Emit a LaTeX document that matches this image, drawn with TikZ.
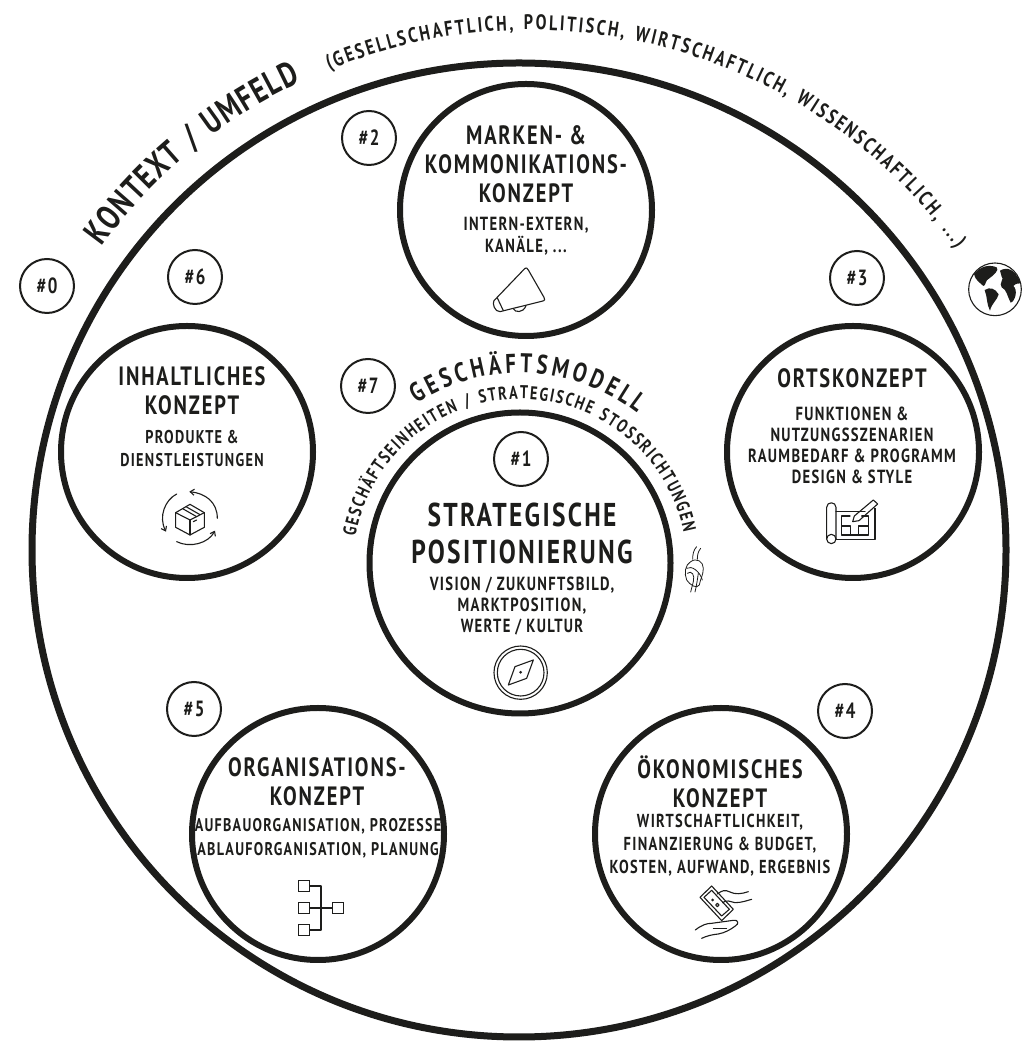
\documentclass[tikz,border=0pt]{standalone}
\usepackage{fontspec}
\usetikzlibrary{decorations.text,arrows.meta}
\newfontfamily\din{PT Sans}[FakeStretch=0.77,LetterSpace=7]
\definecolor{ink}{HTML}{1D1D1B}
\newcommand{\fs}[2]{\din\bfseries\fontsize{#1}{#2}\selectfont}
\tikzset{
 bigc/.style={circle,draw=ink,line width=6pt,minimum size=252pt,inner sep=0pt},
 midc/.style={circle,draw=ink,line width=6pt,minimum size=301pt,inner sep=0pt},
 nr/.style={circle,draw=ink,line width=2pt,minimum size=54pt,inner sep=0pt,text=ink,font=\fs{22}{22}},
 title/.style={inner sep=0pt,align=center,text=ink,font=\fs{26.5}{29}},
 sub/.style={inner sep=0pt,align=center,text=ink,font=\fs{19}{22}},
 icon/.style={draw=ink,line width=1.1pt,line cap=round,line join=round},
 iconthin/.style={draw=ink,line width=.8pt,line cap=round,line join=round},
 orgbox/.style={draw=ink,line width=1.1pt,minimum size=11pt,inner sep=0pt},
 curved/.style={postaction={decorate},decoration={text along path,text align={fit to path},text={#1}}}
}
\begin{document}
\begin{tikzpicture}[x=1pt,y=1pt]
\useasboundingbox (0,0) rectangle (1032,1050);
\fill[white] (0,0) rectangle (1032,1050);
% outer circle
\node[circle,draw=ink,line width=7pt,minimum size=974pt,inner sep=0pt] (outer) at (519,1050-550) {};
% concept circles
\node[midc] (c1) at (520,1050-563) {};
\node[bigc] (c2) at (526,1050-210) {};
\node[bigc] (c3) at (853,1050-452) {};
\node[bigc] (c4) at (721,1050-834) {};
\node[bigc] (c5) at (318,1050-834) {};
\node[bigc] (c6) at (187,1050-452) {};
% number circles
\node[nr] (n0) at (47,1050-286) {\#0};
\node[nr] (n1) at (521,1050-459) {\#1};
\node[nr] (n2) at (369,1050-138) {\#2};
\node[nr] (n3) at (857,1050-278) {\#3};
\node[nr] (n4) at (845,1050-711) {\#4};
\node[nr] (n5) at (194,1050-709) {\#5};
\node[nr] (n6) at (195,1050-277) {\#6};
\node[nr] (n7) at (368,1050-386) {\#7};
% texts
\node[title] (t2) at (526,1050-164) {MARKEN- \&\\KOMMONIKATIONS-\\KONZEPT};
\node[sub] (s2) at (526,1050-236) {INTERN-EXTERN,\\KANÄLE, ...};
\node[title] (t6) at (192,1050-391) {INHALTLICHES\\KONZEPT};
\node[sub,font=\fs{18.5}{23}] (s6) at (192,1050-449) {PRODUKTE \&\\DIENSTLEISTUNGEN};
\node[title] (t3) at (852,1050-378) {ORTSKONZEPT};
\node[sub,font=\fs{19}{21}] (s3) at (852,1050-445) {FUNKTIONEN \&\\NUTZUNGSSZENARIEN\\RAUMBEDARF \& PROGRAMM\\DESIGN \& STYLE};
\node[title,font=\fs{33}{37}] (t1) at (522,1050-533) {STRATEGISCHE\\POSITIONIERUNG};
\node[sub,font=\fs{19}{21}] (s1) at (522,1050-606) {VISION / ZUKUNFTSBILD,\\MARKTPOSITION,\\WERTE / KULTUR};
\node[title] (t5) at (317,1050-782) {ORGANISATIONS-\\KONZEPT};
\node[sub,font=\fs{18.3}{24}] (s5) at (318,1050-838) {AUFBAUORGANISATION, PROZESSE\\ABLAUFORGANISATION, PLANUNG};
\node[title] (t4) at (720,1050-782) {ÖKONOMISCHES\\KONZEPT};
\node[sub,font=\fs{18.8}{23}] (s4) at (720,1050-845) {WIRTSCHAFTLICHKEIT,\\FINANZIERUNG \& BUDGET,\\KOSTEN, AUFWAND, ERGEBNIS};
% curved texts
\coordinate (m) at (520,1050-563);
\coordinate (q) at (520,1050-566);
\coordinate (o) at (519,1050-550);
\coordinate (p) at (530,1050-555);
\path[curved={|\fs{18.5}{18}\color{ink}|GESCHÄFTSEINHEITEN / STRATEGISCHE STOSSRICHTUNGEN}] ([shift={(170:167)}]q) arc[start angle=170,end angle=11.5,radius=167];
\path[curved={|\fs{27}{27}\color{ink}|GESCHÄFTSMODELL}] ([shift={(123:190)}]m) arc[start angle=123,end angle=52,radius=190];
\path[curved={|\fs{35}{35}\color{ink}|KONTEXT / UMFELD}] ([shift={(144:516)}]o) arc[start angle=144,end angle=115,radius=516];
\path[curved={|\fs{21}{21}\color{ink}|(GESELLSCHAFTLICH, POLITISCH, WIRTSCHAFTLICH, WISSENSCHAFTLICH, ...)}] ([shift={(112.5:525)}]p) arc[start angle=112.5,end angle=35.8,radius=525];
% megaphone
\begin{scope}[shift={(470,1050-260)},x=.3333pt,y=-.3333pt]
\draw[icon] (165,25) -- (72,122) .. controls (66,130) and (74,156) .. (90,155) -- (215,124) .. controls (226,122) and (225,118) .. (222,112) -- (175,30) .. controls (172,24) and (168,22) .. (165,25) -- cycle;
\draw[icon] (82,114) -- (100,152);
\draw[icon] (130,146) .. controls (134,158) and (160,160) .. (168,137);
\end{scope}
% box
\begin{scope}[shift={(140,1050-500)},x=.3333pt,y=-.3333pt]
\draw[icon] (150,13) -- (193,38) -- (193,82) -- (150,105) -- (107,82) -- (107,38) -- cycle;
\draw[icon] (107,38) -- (150,60) -- (193,38);
\draw[icon] (150,60) -- (150,105);
\draw[icon] (128,26) -- (170,50);
\draw[icon] (138,20) -- (180,44);
\draw[icon] (160,65) -- (170,60);
\draw[icon,-{Straight Barb[length=4pt,width=6pt]}] (232,55) .. controls (232,5) and (195,-20) .. (148,-25);
\draw[icon,-{Straight Barb[length=4pt,width=6pt]}] (110,-18) .. controls (75,0) and (55,50) .. (78,95);
\draw[icon,-{Straight Barb[length=4pt,width=6pt]}] (110,125) .. controls (150,145) and (205,130) .. (225,92);
\end{scope}
% blueprint
\begin{scope}[shift={(810,1050-480)},x=.3333pt,y=-.3333pt]
\draw[icon] (50,177) -- (50,82) .. controls (50,64) and (78,64) .. (78,82) -- (78,177);
\draw[icon] (64,177) circle[radius=14];
\draw[icon] (78,95) -- (165,95);
\draw[icon] (195,85) -- (195,178) -- (78,178);
\draw[icon] (95,108) -- (120,108);
\draw[icon] (155,108) -- (175,108) -- (175,165) -- (95,165) -- (95,108);
\draw[icon] (95,138) -- (122,138) -- (122,165);
\draw[icon] (145,165) -- (145,138) -- (175,138);
\draw[icon] (128,125) -- (133,108) -- (190,60) -- (203,72) -- (147,122) -- cycle;
\end{scope}
% compass
\begin{scope}[shift={(480,1050-630)},x=.3333pt,y=-.3333pt]
\draw[icon] (122,128) circle[radius=80];
\draw[icon] (122,128) circle[radius=70];
\draw[icon] (160,90) -- (140,145) -- (85,165) -- (105,110) -- cycle;
\fill[ink] (122,127) circle[radius=4.5];
\end{scope}
% knot
\begin{scope}[shift={(670,1050-530)},x=.3333pt,y=-.3333pt]
\draw[iconthin] (80,50) .. controls (70,60) and (68,75) .. (68,88);
\draw[iconthin] (92,55) .. controls (84,65) and (82,75) .. (82,88);
\draw[iconthin] (62,95) .. controls (80,82) and (100,95) .. (100,115) .. controls (100,135) and (90,150) .. (88,165) .. controls (80,178) and (60,165) .. (50,150) .. controls (42,130) and (45,105) .. (62,95);
\draw[iconthin] (50,115) .. controls (65,105) and (90,125) .. (97,150);
\draw[iconthin] (52,130) .. controls (65,120) and (75,135) .. (70,155) -- (62,186);
\draw[iconthin] (85,130) .. controls (82,150) and (80,165) .. (75,186);
\end{scope}
% globe
\begin{scope}[shift={(950,1050-250)},x=.3333pt,y=-.3333pt]
\draw[icon,fill=white] (135,118) circle[radius=79];
\fill[ink] (72,72) .. controls (90,50) and (115,42) .. (140,52) .. controls (150,60) and (128,78) .. (118,85) .. controls (105,90) and (108,108) .. (100,108) .. controls (90,98) and (75,90) .. (72,72) -- cycle;
\fill[ink] (104,120) .. controls (120,110) and (135,115) .. (146,133) .. controls (142,150) and (125,160) .. (120,182) .. controls (110,165) and (112,140) .. (104,120) -- cycle;
\fill[ink] (150,62) .. controls (170,50) and (195,55) .. (212,100) .. controls (205,100) and (198,100) .. (190,108) .. controls (205,120) and (195,155) .. (182,158) .. controls (172,140) and (170,118) .. (155,112) .. controls (145,100) and (165,85) .. (155,80) -- cycle;
\end{scope}
% hands and money
\begin{scope}[shift={(670,1050-860)},x=.3333pt,y=-.3333pt]
\draw[icon] (90,112) -- (125,78) -- (190,148) -- (155,182) -- cycle;
\draw[icon] (102,112) -- (125,91) -- (178,148) -- (155,168) -- cycle;
\fill[ink] (128,120) circle[radius=4.5];
\draw[icon] (142,135) circle[radius=5];
\draw[icon] (142,102) .. controls (155,92) and (165,88) .. (180,96) .. controls (195,104) and (215,102) .. (235,95);
\draw[icon] (158,128) .. controls (170,118) and (180,125) .. (195,128) .. controls (215,128) and (230,122) .. (245,118);
\draw[icon] (76,210) .. controls (95,195) and (110,190) .. (125,190) -- (190,181) .. controls (205,178) and (208,192) .. (196,198) .. controls (180,210) and (165,218) .. (145,222) .. controls (125,224) and (110,228) .. (95,235);
\draw[icon] (130,205) -- (170,205);
\end{scope}
% org chart
\node[orgbox] (b1) at (304,1050-886) {};
\node[orgbox] (b2) at (304,1050-908) {};
\node[orgbox] (b3) at (304,1050-930) {};
\node[orgbox] (b4) at (338,1050-908) {};
\coordinate (j) at (321,1050-908);
\draw[icon] (b1.east) -| (j);
\draw[icon] (b3.east) -| (j);
\draw[icon] (b2.east) -- (b4.west);
\end{tikzpicture}
\end{document}
